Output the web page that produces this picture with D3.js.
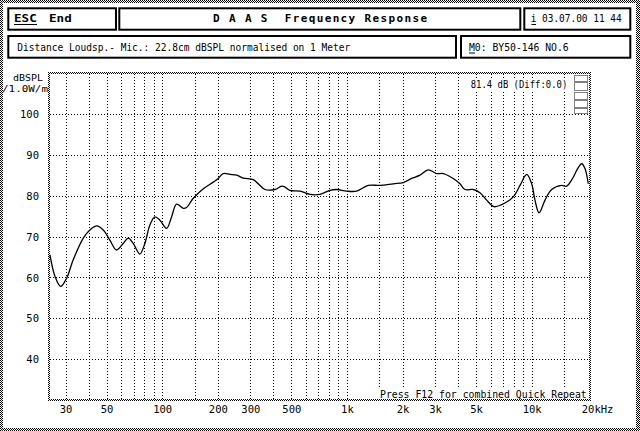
<!DOCTYPE html>
<html><head><meta charset="utf-8">
<script src="https://cdn.jsdelivr.net/npm/d3@7"></script>
<style>html,body{margin:0;padding:0;background:#fff;}svg{display:block;}</style>
</head><body>
<script>
// ---- data ----
const freqHz = [24.7, 26.3, 28.2, 30.4, 33.0, 37.4, 40.6, 44.2, 48.0, 52.1, 56.6, 61.5, 65.5, 69.7, 75.7, 80.6, 85.8, 91.3, 97.2, 105.7, 112.4, 119.7, 130, 135.5, 147, 167, 189, 201, 214, 233, 253, 275, 311, 331, 360, 408, 443, 462, 491, 557, 631, 714, 809, 880, 996, 1129, 1304, 1510, 1782, 2018, 2240, 2485, 2756, 3060, 3322, 3764, 4090, 4355, 4830, 5250, 5705, 6250, 6880, 7950, 8650, 9400, 10000, 10420, 10960, 11810, 12830, 14520, 15460, 16790, 17530, 18660, 19450, 20250];
const splDb = [65.5, 60.2, 57.8, 59.8, 64.3, 69.6, 71.6, 72.6, 71.6, 69.1, 66.7, 68.3, 69.6, 68.3, 65.7, 68.3, 72.8, 74.8, 74.0, 72.0, 74.8, 77.9, 76.9, 77.1, 79.3, 81.7, 83.3, 84.2, 85.4, 85.2, 85.0, 84.3, 83.9, 82.9, 81.5, 81.5, 82.3, 82.1, 81.3, 81.1, 80.3, 80.3, 81.3, 81.5, 81.1, 81.1, 82.5, 82.5, 82.9, 83.2, 84.2, 85.0, 86.3, 85.4, 85.4, 84.2, 82.9, 81.5, 81.5, 80.7, 78.9, 77.3, 77.8, 79.7, 82.5, 85.2, 82.9, 78.9, 75.8, 78.9, 81.5, 82.5, 82.3, 84.5, 86.2, 87.8, 86.6, 82.9];
const xTickValues = [30, 50, 100, 200, 300, 500, 1000, 2000, 3000, 5000, 10000, 20000];
const xTickLabels = ["30", "50", "100", "200", "300", "500", "1k", "2k", "3k", "5k", "10k", "20kHz"];
const xGridValues = [30, 40, 50, 60, 70, 80, 90, 100, 150, 200, 300, 400, 500, 600, 700, 800, 900, 1000, 1500, 2000, 3000, 4000, 5000, 6000, 7000, 8000, 9000, 10000, 15000];
const yTickValues = [40, 50, 60, 70, 80, 90, 100];
const yTickLabels = ["40", "50", "60", "70", "80", "90", "100"];
const yGridValues = [40, 50, 60, 70, 80, 90, 100];
const titleText = "D A A S  Frequency Response";
const escText = "ESC";
const endText = "End";
const dateText = "i 03.07.00 11 44";
const infoText = "Distance Loudsp.- Mic.: 22.8cm dBSPL normalised on 1 Meter";
const modelText = "M0: BY50-146 NO.6";
const levelText = "81.4 dB (Diff:0.0)";
const footText = "Press F12 for combined Quick Repeat";
const yUnit1 = "dBSPL";
const yUnit2 = "/1.0W/m";

(function () {
const W = 640, H = 431;
const FONT = "'DejaVu Sans Mono', 'Liberation Mono', monospace";
const FS = 10.5;
const svg = d3.select("body").append("svg").attr("width", W).attr("height", H);

const defs = svg.append("defs");
const pat = defs.append("pattern").attr("id", "dither").attr("width", 2).attr("height", 2).attr("patternUnits", "userSpaceOnUse");
pat.append("rect").attr("x", 0).attr("y", 0).attr("width", 1).attr("height", 1).attr("fill", "#000");
pat.append("rect").attr("x", 1).attr("y", 1).attr("width", 1).attr("height", 1).attr("fill", "#000");

svg.append("rect").attr("width", W).attr("height", H).attr("fill", "#fff");

function ditherRect(g, x0, y0, w, h) {
  g.append("rect").attr("x", x0).attr("y", y0).attr("width", w).attr("height", h).attr("fill", "url(#dither)");
}
const frame = svg.append("g");
ditherRect(frame, 0, 0, W, 3);
ditherRect(frame, 0, H - 3, W, 3);
ditherRect(frame, 0, 0, 3, H);
ditherRect(frame, W - 4, 0, 4, H);

// header boxes
const boxes = [
  [8.3, 8.3, 116, 29.7], [119.3, 8.3, 520.3, 29.7], [524.3, 8.3, 630.3, 29.7],
  [8.3, 36, 456, 57.7], [461, 36, 630.3, 57.7]
];
svg.append("g").selectAll("rect").data(boxes).join("rect")
  .attr("x", d => d[0]).attr("y", d => d[1])
  .attr("width", d => d[2] - d[0]).attr("height", d => d[3] - d[1])
  .attr("fill", "none").attr("stroke", "#000").attr("stroke-width", 2);

function txt(s, x0, y0, opts = {}) {
  const t = svg.append("text").attr("x", x0).attr("y", y0)
    .attr("font-family", FONT).attr("font-size", opts.size || FS)
    .attr("font-weight", opts.bold ? "bold" : "normal")
    .attr("fill", "#000").attr("text-anchor", opts.anchor || "start")
    .style("white-space", "pre").text(s);
  if (opts.len) t.attr("textLength", opts.len).attr("lengthAdjust", opts.adj || "spacingAndGlyphs");
  return t;
}
function uline(x1, x2, yy) {
  svg.append("line").attr("x1", x1).attr("x2", x2).attr("y1", yy).attr("y2", yy).attr("stroke", "#000").attr("stroke-width", 1);
}

txt(escText, 14, 22.3, { bold: true, size: 11, len: 22.7 });
uline(14, 37, 24.5);
txt(endText, 49, 22.3, { bold: true, size: 11, len: 22.7 });
txt(titleText, 320, 22.3, { bold: true, size: 11, anchor: "middle", len: 214, adj: "spacing" });
txt(dateText, 530.7, 22.3, { len: 91 });
uline(531.5, 536, 24.5);
txt(infoText, 17.3, 50.7, { len: 333 });
txt(modelText, 469, 50.7, { len: 99.7 });
uline(469, 475, 53);

// plot area
const pL = 49, pR = 590, pT = 73, pB = 400;
const x = d3.scaleLog().domain([24.4, 20690]).range([pL, pR]);
const y = d3.scaleLinear().domain([30, 110]).range([pB, pT]);

const grid = svg.append("g");
grid.selectAll("line.v").data(xGridValues).join("line").attr("class", "v")
  .attr("x1", d => Math.round(x(d)) + 0.5).attr("x2", d => Math.round(x(d)) + 0.5)
  .attr("y1", pT + 1).attr("y2", pB - 1)
  .attr("stroke", "#000").attr("stroke-width", 1).attr("stroke-dasharray", "1,2");
grid.selectAll("line.h").data(yGridValues).join("line").attr("class", "h")
  .attr("x1", pL + 1).attr("x2", pR - 1)
  .attr("y1", d => Math.round(y(d)) + 0.5).attr("y2", d => Math.round(y(d)) + 0.5)
  .attr("stroke", "#000").attr("stroke-width", 1).attr("stroke-dasharray", "1,2");

const xAxis = d3.axisBottom(x).tickValues(xTickValues).tickSize(0)
  .tickFormat((d, i) => xTickLabels[i]);
const gx = svg.append("g").attr("transform", `translate(0,${pB + 3})`).call(xAxis);
gx.select(".domain").remove();
gx.selectAll("text").attr("font-family", FONT).attr("font-size", FS).attr("fill", "#000").attr("dy", "0.71em");
gx.selectAll(".tick").filter(d => d === 20000).select("text").attr("text-anchor", "start").attr("dx", -6);

const yAxis = d3.axisLeft(y).tickValues(yTickValues).tickSize(0)
  .tickFormat((d, i) => yTickLabels[i]);
const gy = svg.append("g").attr("transform", `translate(39,0)`).call(yAxis);
gy.select(".domain").remove();
gy.selectAll("text").attr("font-family", FONT).attr("font-size", FS).attr("fill", "#000").attr("x", 0).attr("dy", "0.35em");

txt(yUnit1, 13, 80.5, { size: 9, len: 30 });
txt(yUnit2, 2, 92, { size: 9, len: 46 });

// curve
const pts = freqHz.map((f, i) => [f, splDb[i]]);
const line = d3.line().x(d => x(d[0])).y(d => y(d[1])).curve(d3.curveCatmullRom.alpha(0.5));
svg.append("path").datum(pts).attr("d", line).attr("fill", "none")
  .attr("stroke", "#000").attr("stroke-width", 1.3).attr("stroke-linejoin", "round");

// little dotted indicator boxes (top right)
const indBoxes = [[75, 81], [82, 90], [92, 99], [100, 107], [108, 113]];
svg.append("g").selectAll("rect").data(indBoxes).join("rect")
  .attr("x", 574.5).attr("y", d => d[0] + 0.5).attr("width", 13).attr("height", d => d[1] - d[0])
  .attr("fill", "#fff").attr("stroke", "#000").attr("stroke-width", 1).attr("stroke-dasharray", "1,1");

svg.append("rect").attr("x", 469).attr("y", 79).attr("width", 100).attr("height", 11).attr("fill", "#fff");
txt(levelText, 470.7, 88.3, { len: 96.6 });

svg.append("rect").attr("x", 378).attr("y", 389).attr("width", 210).attr("height", 10).attr("fill", "#fff");
txt(footText, 380, 397.5, { len: 206.7 });

ditherRect(svg, pL - 1, pT - 1, pR - pL + 2, 2);
ditherRect(svg, pL - 1, pB - 1, pR - pL + 2, 2);
ditherRect(svg, pL - 1, pT - 1, 2, pB - pT + 2);
ditherRect(svg, pR - 1, pT - 1, 2, pB - pT + 2);
})();
</script>
</body></html>
